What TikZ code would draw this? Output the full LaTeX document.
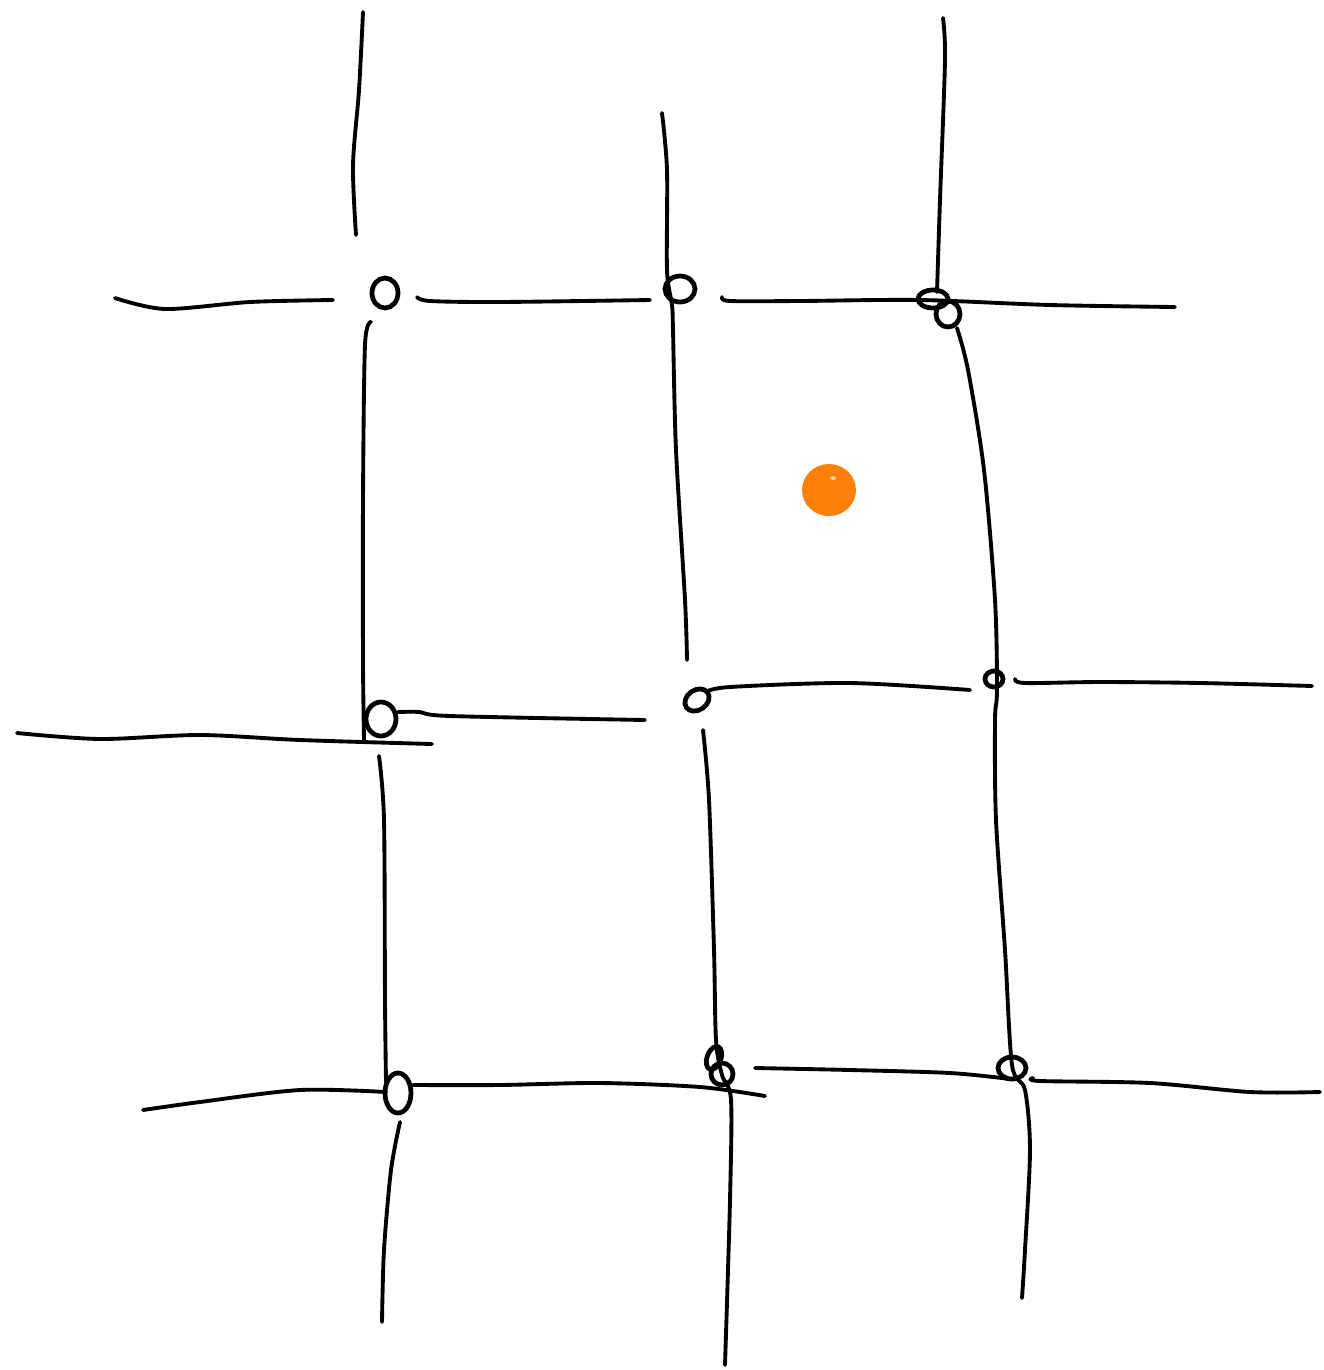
\documentclass[tikz,border=0pt]{standalone}
\definecolor{dotorange}{RGB}{255,128,8}
\tikzset{
  pen/.style={line width=2.2pt, line cap=round, line join=round, black},
  loop/.style={line width=2.7pt, black},
}
\begin{document}
\begin{tikzpicture}[x=0.02cm,y=-0.02cm]
\useasboundingbox (0,0) rectangle (1323,1370);
% ---- vertical strokes, column 1
\draw[pen] plot[smooth] coordinates {(363,12) (359,90) (353,165) (356,235)};
\draw[pen] plot[smooth] coordinates {(371,322) (365,345) (363,500) (363,660) (364,740)};
\draw[pen] plot[smooth] coordinates {(379,756) (384,820) (385,1000) (386,1082)};
\draw[pen] plot[smooth] coordinates {(400,1122) (391,1170) (384,1250) (382,1322)};
% ---- column 2
\draw[pen] plot[smooth] coordinates {(662,113) (667,170) (667,270) (672,305) (673,330) (676,450) (685,600) (687,660)};
\draw[pen] plot[smooth] coordinates {(703,730) (709,800) (714,950) (716,1040) (722,1075) (731,1100) (730,1200) (725,1365)};
% ---- column 3
\draw[pen] plot[smooth] coordinates {(943,18) (945,60) (940,200) (937,292)};
\draw[pen] plot[smooth] coordinates {(957,328) (968,370) (984,470) (995,600) (997,690) (995,720) (996,820) (1005,950) (1012,1065) (1025,1090) (1030,1150) (1025,1250) (1022,1298)};
% ---- horizontal row 1
\draw[pen] plot[smooth] coordinates {(115,298) (165,309) (250,302) (333,300)};
\draw[pen] plot[smooth] coordinates {(417,297) (430,301) (500,302) (650,300)};
\draw[pen] plot[smooth] coordinates {(722,297) (730,301) (800,301) (920,300) (1050,305) (1175,307)};
% ---- horizontal row 2
\draw[pen] plot[smooth] coordinates {(17,733) (100,739) (200,735) (300,740) (432,744)};
\draw[pen] plot[smooth] coordinates {(398,712) (420,712) (450,716) (645,720)};
\draw[pen] plot[smooth] coordinates {(706,692) (730,687) (850,683) (970,690)};
\draw[pen] plot[smooth] coordinates {(1015,679) (1025,683) (1100,682) (1200,683) (1312,686)};
% ---- horizontal row 3
\draw[pen] plot[smooth] coordinates {(143,1110) (200,1102) (300,1090) (386,1092)};
\draw[pen] plot[smooth] coordinates {(413,1085) (500,1085) (600,1083) (700,1087) (765,1096)};
\draw[pen] plot[smooth] coordinates {(755,1068) (850,1070) (950,1073) (1010,1079)};
\draw[pen] plot[smooth] coordinates {(1033,1078) (1040,1081) (1150,1083) (1250,1092) (1320,1092)};
% ---- little loops at the crossings
\draw[loop] (385,293) ellipse [x radius=13, y radius=15];
\draw[loop] (680,289) ellipse [x radius=15, y radius=13];
\draw[loop] (933,299) ellipse [x radius=15, y radius=9];
\draw[loop] (948,314) ellipse [x radius=12, y radius=13];
\draw[loop] (381,719) ellipse [x radius=15, y radius=17];
\draw[loop,rotate around={35:(697,700)}] (697,700) ellipse [x radius=13, y radius=10];
\draw[loop] (994,679) ellipse [x radius=9, y radius=8];
\draw[loop] (398,1093) ellipse [x radius=13, y radius=20];
\draw[loop] (722,1074) ellipse [x radius=11, y radius=11];
\draw[loop,rotate around={-20:(714,1058)}] (714,1058) ellipse [x radius=7, y radius=12];
\draw[loop] (1012,1068) ellipse [x radius=14, y radius=11];
% ---- orange dot
\fill[dotorange] (829,490) ellipse [x radius=27, y radius=26];
\fill[white,opacity=0.6] (833,478) ellipse [x radius=3, y radius=2];
\end{tikzpicture}
\end{document}
